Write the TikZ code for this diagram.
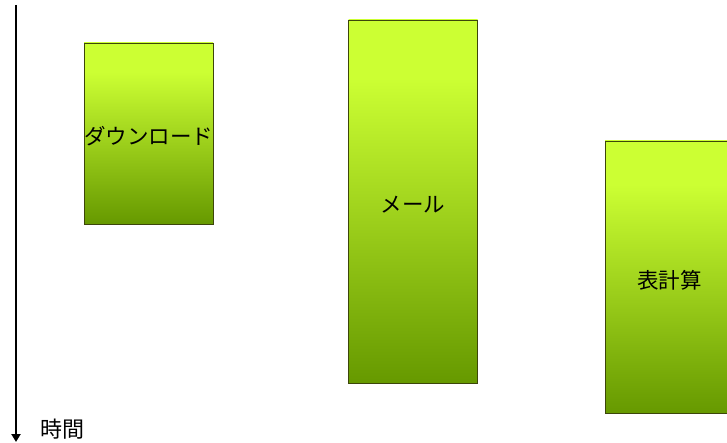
\documentclass[tikz,border=0pt]{standalone}
\usepackage{fontspec}
\setmainfont{Noto Sans CJK JP}
\usetikzlibrary{arrows.meta}
\definecolor{lightg}{RGB}{204,255,51}
\definecolor{darkg}{RGB}{102,153,0}
\definecolor{edgeg}{RGB}{60,70,10}
\pgfdeclareverticalshading{boxgrad}{100bp}{color(0bp)=(darkg); color(25bp)=(darkg); color(67bp)=(lightg); color(100bp)=(lightg)}
\tikzset{
  taskbox/.style={draw=edgeg, line width=0.9pt, shading=boxgrad, minimum width=129pt, inner sep=0pt},
  boxtext/.style={font=\fontsize{21.5}{24}\selectfont, text=black, inner sep=0pt, yshift=-3pt},
  timeaxis/.style={line width=2.5pt, -{Triangle[length=8pt,width=9pt]}},
  lbl/.style={font=\fontsize{22}{24}\selectfont}
}
\begin{document}
\begin{tikzpicture}[x=1pt,y=-1pt]
\clip (0,0) rectangle (727,443);
\useasboundingbox (0,0) rectangle (727,443);
\fill[white] (0,0) rectangle (727,443);
\coordinate (ts) at (16,5);
\coordinate (te) at (16,442);
\draw[timeaxis] (ts) -- (te);
\node[lbl, anchor=center] (time) at (62,429) {時間};
\node[taskbox, minimum height=181pt, label={[boxtext]center:ダウンロード}] (dl) at (148.5,133.5) {};
\node[taskbox, minimum height=363pt, label={[boxtext]center:メール}] (mail) at (413,201.5) {};
\node[taskbox, minimum height=272pt, label={[boxtext]center:表計算}] (calc) at (669.5,277) {};
\end{tikzpicture}
\end{document}
